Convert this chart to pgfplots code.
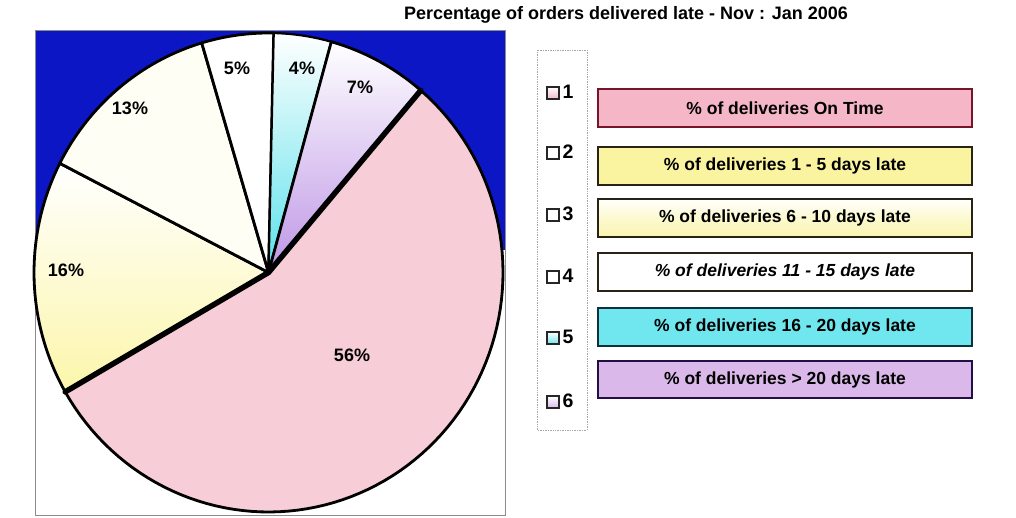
\documentclass[border=0pt]{standalone}
\usepackage{pgfplots}
\pgfplotsset{compat=1.18}
\usepackage{pgfplotstable}
\usepackage{fontspec}
\setmainfont{Liberation Sans}
\definecolor{bgblue}{RGB}{12,22,196}
\definecolor{sliceA}{RGB}{247,205,215}
\definecolor{sliceB}{RGB}{252,246,170}
\definecolor{sliceC}{RGB}{255,254,245}
\definecolor{sliceD}{RGB}{255,255,255}
\definecolor{sliceE}{RGB}{90,225,235}
\definecolor{sliceF}{RGB}{190,150,230}
\definecolor{boxA}{RGB}{245,182,200}
\definecolor{boxAd}{RGB}{120,20,40}
\definecolor{boxB}{RGB}{250,244,160}
\definecolor{boxC}{RGB}{250,245,175}
\definecolor{boxE}{RGB}{112,230,238}
\definecolor{boxEd}{RGB}{14,50,60}
\definecolor{boxF}{RGB}{218,185,234}
\definecolor{boxFd}{RGB}{32,16,70}
\definecolor{darkb}{RGB}{40,35,20}

\pgfplotstableread{
slice pct
1 56
2 16
3 13
4 5
5 4
6 7
}\piedata

\newcommand{\bigtxt}{\bfseries\fontsize{17.5}{20}\selectfont}
\newcommand{\pietxt}{\bfseries\fontsize{18}{20}\selectfont}
\newcommand{\numtxt}{\bfseries\fontsize{19.5}{21}\selectfont}
\newcommand{\legsq}[3]{%
  \draw[black!85, line width=1.4pt, top color=white, bottom color=#2] (axis cs:547,#1-6) rectangle (axis cs:559,#1+6);%
  \node[font=\numtxt, anchor=west] at (axis cs:559,#1+1) {#3};}

\pgfplotstablegetelem{0}{pct}\of\piedata\let\pA\pgfplotsretval
\pgfplotstablegetelem{1}{pct}\of\piedata\let\pB\pgfplotsretval
\pgfplotstablegetelem{2}{pct}\of\piedata\let\pC\pgfplotsretval
\pgfplotstablegetelem{3}{pct}\of\piedata\let\pD\pgfplotsretval
\pgfplotstablegetelem{4}{pct}\of\piedata\let\pE\pgfplotsretval
\pgfplotstablegetelem{5}{pct}\of\piedata\let\pF\pgfplotsretval
\def\angstart{49.5}
\pgfmathsetmacro\tot{\pA+\pB+\pC+\pD+\pE+\pF}
\pgfmathsetmacro\aA{\angstart-\pA/\tot*360}
\pgfmathsetmacro\aB{\aA-\pB/\tot*360}
\pgfmathsetmacro\aC{\aB-\pC/\tot*360}
\pgfmathsetmacro\aD{\aC-\pD/\tot*360}
\pgfmathsetmacro\aE{\aD-\pE/\tot*360}
\pgfmathsetmacro\aF{\aE-\pF/\tot*360}
\def\cx{268.5}\def\cy{245.5}\def\rx{234.5}\def\ry{239.5}
\pgfmathsetmacro\xS{\cx+\rx*cos(\angstart)}
\pgfmathsetmacro\yS{\cy+\ry*sin(\angstart)}
\pgfmathsetmacro\xE{\cx+\rx*cos(\aA)}
\pgfmathsetmacro\yE{\cy+\ry*sin(\aA)}

\begin{document}
\begin{tikzpicture}
\begin{axis}[hide axis, scale only axis, width=1016pt, height=518pt,
  xmin=0, xmax=1016, ymin=0, ymax=518, clip=false]
\path (axis cs:0,0) rectangle (axis cs:1016,518);
% plot area
\fill[bgblue] (axis cs:35,268) rectangle (axis cs:505,488);
\draw[black!45, line width=0.6pt] (axis cs:35,3) rectangle (axis cs:505,488);
% wedges
\addplot[draw=black, line width=2.8pt, line join=round, fill=sliceA, domain=\aA:\angstart, samples=90]
  ({\cx+\rx*cos(x)},{\cy+\ry*sin(x)}) -- (axis cs:\cx,\cy) -- cycle;
\addplot[draw=black, line width=2.8pt, line join=round, top color=white, bottom color=sliceB, domain=\aB:\aA, samples=40]
  ({\cx+\rx*cos(x)},{\cy+\ry*sin(x)}) -- (axis cs:\cx,\cy) -- cycle;
\addplot[draw=black, line width=2.8pt, line join=round, fill=sliceC, domain=\aC:\aB, samples=40]
  ({\cx+\rx*cos(x)},{\cy+\ry*sin(x)}) -- (axis cs:\cx,\cy) -- cycle;
\addplot[draw=black, line width=2.8pt, line join=round, fill=sliceD, domain=\aD:\aC, samples=20]
  ({\cx+\rx*cos(x)},{\cy+\ry*sin(x)}) -- (axis cs:\cx,\cy) -- cycle;
\addplot[draw=black, line width=2.2pt, line join=round, top color=white, bottom color=sliceE, domain=\aE:\aD, samples=20]
  ({\cx+\rx*cos(x)},{\cy+\ry*sin(x)}) -- (axis cs:\cx,\cy) -- cycle;
\addplot[draw=black, line width=2.8pt, line join=round, top color=white, bottom color=sliceF, domain=\aF:\aE, samples=30]
  ({\cx+\rx*cos(x)},{\cy+\ry*sin(x)}) -- (axis cs:\cx,\cy) -- cycle;
% thick edges of the main slice
\addplot[black, line width=5.5pt, line cap=round] coordinates {(\cx,\cy) (\xS,\yS)};
\addplot[black, line width=5.5pt, line cap=round] coordinates {(\cx,\cy) (\xE,\yE)};
% slice labels
\node[font=\pietxt] at (axis cs:352,163) {56\%};
\node[font=\pietxt] at (axis cs:66,248) {16\%};
\node[font=\pietxt] at (axis cs:130,410) {13\%};
\node[font=\pietxt] at (axis cs:237,450) {5\%};
\node[font=\pietxt] at (axis cs:302,450) {4\%};
\node[font=\pietxt] at (axis cs:360,431) {7\%};
% title
\node[font=\bfseries\fontsize{18}{20}\selectfont] at (axis cs:626,503) {Percentage of orders delivered late - Nov : Jan 2006};
% legend
\draw[black!35, densely dotted, line width=0.7pt] (axis cs:537,88) rectangle (axis cs:587,468);
\legsq{425}{boxA}{1}
\legsq{365}{white}{2}
\legsq{303}{white}{3}
\legsq{241}{white}{4}
\legsq{180}{boxE}{5}
\legsq{116}{boxF}{6}
% category boxes
\draw[boxAd, line width=1.8pt, fill=boxA] (axis cs:598,391) rectangle (axis cs:972,429);
\node[font=\bigtxt] at (axis cs:785,410) {\% of deliveries On Time};
\draw[darkb, line width=1.8pt, fill=boxB] (axis cs:598,333) rectangle (axis cs:972,371);
\node[font=\bigtxt] at (axis cs:785,352) {\% of deliveries 1 - 5 days late};
\draw[darkb, line width=1.8pt, top color=white, bottom color=boxC, middle color=boxC!60!white] (axis cs:598,281) rectangle (axis cs:972,319);
\node[font=\bigtxt] at (axis cs:785,300) {\% of deliveries 6 - 10 days late};
\draw[darkb, line width=1.8pt, fill=white] (axis cs:598,227) rectangle (axis cs:972,265);
\node[font=\bigtxt\itshape] at (axis cs:785,246) {\% of deliveries 11 - 15 days late};
\draw[boxEd, line width=1.8pt, fill=boxE] (axis cs:598,172) rectangle (axis cs:972,210);
\node[font=\bigtxt] at (axis cs:785,191) {\% of deliveries 16 - 20 days late};
\draw[boxFd, line width=1.8pt, fill=boxF] (axis cs:598,120) rectangle (axis cs:972,157);
\node[font=\bigtxt] at (axis cs:785,138.5) {\% of deliveries > 20 days late};
\end{axis}
\end{tikzpicture}
\end{document}
